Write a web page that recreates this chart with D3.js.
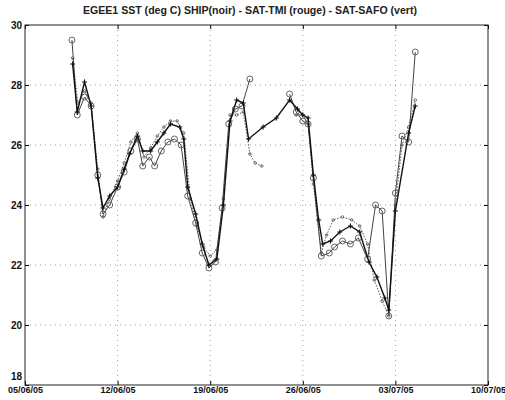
<!DOCTYPE html>
<html>
<head>
<meta charset="utf-8">
<script src="https://cdn.jsdelivr.net/npm/d3@7"></script>
<style>
  body { margin: 0; background: #fff; }
  svg { display: block; font-family: "Liberation Sans", Arial, sans-serif; }
</style>
</head>
<body>
<svg id="chart" width="505" height="400"></svg>
<script>
// days since 05/06/05 and sea surface temperature (deg C)
const shipDays = [3.6, 3.95, 4.5, 5.0, 5.5, 5.9, 6.4, 7.0, 7.5, 7.9, 8.5, 8.9, 9.5, 10.0, 10.5, 11.0, 11.7, 12.0, 12.3, 12.9, 13.4, 13.9, 14.5, 15.0, 15.5, 16.0, 16.5, 16.9, 18.0, 19.0, 20.0, 20.6, 21.0, 21.4, 21.8, 22.2, 22.5, 23.1, 23.8, 24.6, 25.3, 26.0, 26.6, 27.2, 27.5, 28.0, 29.0, 29.5];
const shipSST = [28.7, 27.1, 28.1, 27.3, 24.9, 23.9, 24.3, 24.6, 25.2, 25.7, 26.3, 25.8, 25.8, 26.1, 26.4, 26.7, 26.6, 26.2, 24.6, 23.7, 22.7, 22.0, 22.2, 24.0, 26.8, 27.5, 27.4, 26.2, 26.6, 26.9, 27.5, 27.2, 27.0, 26.9, 25.0, 23.5, 22.7, 22.8, 23.1, 23.3, 23.1, 22.1, 21.6, 20.9, 20.5, 23.8, 26.4, 27.3];

const tmiDays = [3.55, 3.95, 4.5, 5.0, 5.5, 5.9, 6.4, 7.0, 7.5, 8.0, 8.5, 8.9, 9.4, 9.8, 10.3, 10.8, 11.3, 11.8, 12.3, 12.9, 13.4, 13.9, 14.4, 14.9, 15.4, 15.9, 16.4, 17.0, null, 20.0, 20.5, 21.0, 21.4, 21.8, 22.4, 23.0, 23.4, 24.0, 24.6, 25.2, 25.9, 26.5, 27.0, 27.5, 28.0, 28.5, 29.0, 29.5];
const tmiSST = [29.5, 27.0, 27.6, 27.3, 25.0, 23.7, 24.0, 24.6, 25.1, 25.8, 26.2, 25.3, 25.6, 25.3, 25.8, 26.1, 26.2, 26.0, 24.3, 23.4, 22.4, 21.9, 22.1, 23.9, 26.7, 27.2, 27.3, 28.2, null, 27.7, 27.1, 26.8, 26.7, 24.9, 22.3, 22.4, 22.6, 22.8, 22.7, 22.9, 22.2, 24.0, 23.8, 20.3, 24.4, 26.3, 26.1, 29.1];

const safoDays = [3.6, 4.0, 4.5, 5.0, 5.5, 5.9, 6.4, 7.0, 7.5, 8.0, 8.5, 9.0, 9.5, 10.0, 10.5, 11.0, 11.5, 12.0, 12.5, 13.0, 13.5, 14.0, 14.5, 15.0, 15.5, 16.0, 16.5, 17.0, 17.4, 17.9, null, 20.5, 21.0, 21.4, 21.8, 22.4, 22.8, 23.3, 24.0, 24.7, 25.3, 25.9, 26.4, 27.0, 27.5, 28.0, 28.5, 29.0, 29.5];
const safoSST = [28.9, 27.4, 27.8, 27.4, 25.2, 23.6, 24.2, 24.8, 25.4, 26.1, 26.4, 25.6, 25.9, 26.3, 26.6, 26.8, 26.8, 26.4, 24.2, 23.3, 22.6, 22.3, 22.5, 24.2, 27.0, 27.0, 27.1, 25.7, 25.4, 25.3, null, 27.0, 27.0, 26.7, 24.7, 22.4, 23.0, 23.5, 23.6, 23.5, 23.3, 22.7, 21.5, 20.8, 20.3, 24.0, 26.0, 26.6, 27.5];

const xTicks = ["05/06/05", "12/06/05", "19/06/05", "26/06/05", "03/07/05", "10/07/05"];
const yTicks = [18, 20, 22, 24, 26, 28, 30];

const start = new Date(2005, 5, 5);
const toDate = d => new Date(start.getTime() + d * 864e5);
const parseTick = d3.timeParse("%d/%m/%y");

const svg = d3.select("#chart");
const margin = { top: 25, right: 17, bottom: 15, left: 25 };
const width = 505 - margin.left - margin.right;
const height = 400 - margin.top - margin.bottom;

const x = d3.scaleTime()
  .domain([parseTick(xTicks[0]), parseTick(xTicks[xTicks.length - 1])])
  .range([0, width]);
const y = d3.scaleLinear().domain([18, 30]).range([height, 0]);

const g = svg.append("g").attr("transform", `translate(${margin.left},${margin.top})`);

// dotted grid
g.append("g").selectAll("line")
  .data(yTicks.slice(1, -1))
  .join("line")
  .attr("x1", 0).attr("x2", width)
  .attr("y1", d => y(d)).attr("y2", d => y(d))
  .attr("stroke", "#888").attr("stroke-width", 0.8)
  .attr("stroke-dasharray", "1,4");
g.append("g").selectAll("line")
  .data(xTicks.slice(1, -1))
  .join("line")
  .attr("x1", d => x(parseTick(d))).attr("x2", d => x(parseTick(d)))
  .attr("y1", 0).attr("y2", height)
  .attr("stroke", "#888").attr("stroke-width", 0.8)
  .attr("stroke-dasharray", "1,4");

// axes
const xAxis = d3.axisBottom(x)
  .tickValues(xTicks.map(parseTick))
  .tickFormat(d3.timeFormat("%d/%m/%y"))
  .tickSizeInner(-4).tickSizeOuter(0).tickPadding(3);
const yAxis = d3.axisLeft(y)
  .tickValues(yTicks)
  .tickSizeInner(-4).tickSizeOuter(0).tickPadding(3);

g.append("g").attr("transform", `translate(0,${height})`).call(xAxis)
  .call(a => a.select(".domain").remove())
  .call(a => a.selectAll("text").attr("font-size", 9).attr("font-weight", "bold").attr("fill", "#111").attr("dy", "0.6em"));
g.append("g").call(yAxis)
  .call(a => a.select(".domain").remove())
  .call(a => a.selectAll("text").attr("font-size", 10).attr("font-weight", "bold").attr("fill", "#111")
    .attr("dy", d => d === 18 ? "-0.55em" : "0.32em"));

g.append("g").call(d3.axisTop(x).tickValues(xTicks.map(parseTick)).tickFormat("").tickSizeInner(-4).tickSizeOuter(0))
  .call(a => a.select(".domain").remove());
g.append("g").attr("transform", `translate(${width},0)`)
  .call(d3.axisRight(y).tickValues(yTicks).tickFormat("").tickSizeInner(-4).tickSizeOuter(0))
  .call(a => a.select(".domain").remove());

g.append("rect")
  .attr("width", width).attr("height", height)
  .attr("fill", "none").attr("stroke", "#222").attr("stroke-width", 1);

// series
const toPoints = (days, vals) => days.map((d, i) => ({ d, v: vals[i] }));
const line = d3.line()
  .defined(p => p.d !== null && p.v !== null)
  .x(p => x(toDate(p.d)))
  .y(p => y(p.v));

const safo = toPoints(safoDays, safoSST);
const tmi = toPoints(tmiDays, tmiSST);
const ship = toPoints(shipDays, shipSST);

g.append("path").datum(safo).attr("d", line)
  .attr("fill", "none").attr("stroke", "#555").attr("stroke-width", 1)
  .attr("stroke-dasharray", "1.5,1.5");
g.append("g").selectAll("circle").data(safo.filter(p => p.d !== null))
  .join("circle")
  .attr("cx", p => x(toDate(p.d))).attr("cy", p => y(p.v)).attr("r", 1.3)
  .attr("fill", "none").attr("stroke", "#555").attr("stroke-width", 0.8);

g.append("path").datum(tmi).attr("d", line)
  .attr("fill", "none").attr("stroke", "#444").attr("stroke-width", 1);
g.append("g").selectAll("circle").data(tmi.filter(p => p.d !== null))
  .join("circle")
  .attr("cx", p => x(toDate(p.d))).attr("cy", p => y(p.v)).attr("r", 3)
  .attr("fill", "none").attr("stroke", "#555").attr("stroke-width", 0.9);

g.append("path").datum(ship).attr("d", line)
  .attr("fill", "none").attr("stroke", "#111").attr("stroke-width", 1.4);
g.append("g").selectAll("path").data(ship)
  .join("path")
  .attr("transform", p => `translate(${x(toDate(p.d))},${y(p.v)})`)
  .attr("d", "M-2.5,0H2.5M0,-2.5V2.5")
  .attr("stroke", "#111").attr("stroke-width", 1.1);

// title
svg.append("text")
  .attr("x", 250).attr("y", 14)
  .attr("text-anchor", "middle")
  .attr("font-size", 11).attr("font-weight", "bold").attr("fill", "#222")
  .attr("textLength", 334).attr("lengthAdjust", "spacingAndGlyphs")
  .text("EGEE1 SST  (deg C) SHIP(noir) - SAT-TMI (rouge) - SAT-SAFO (vert)");
</script>
</body>
</html>
